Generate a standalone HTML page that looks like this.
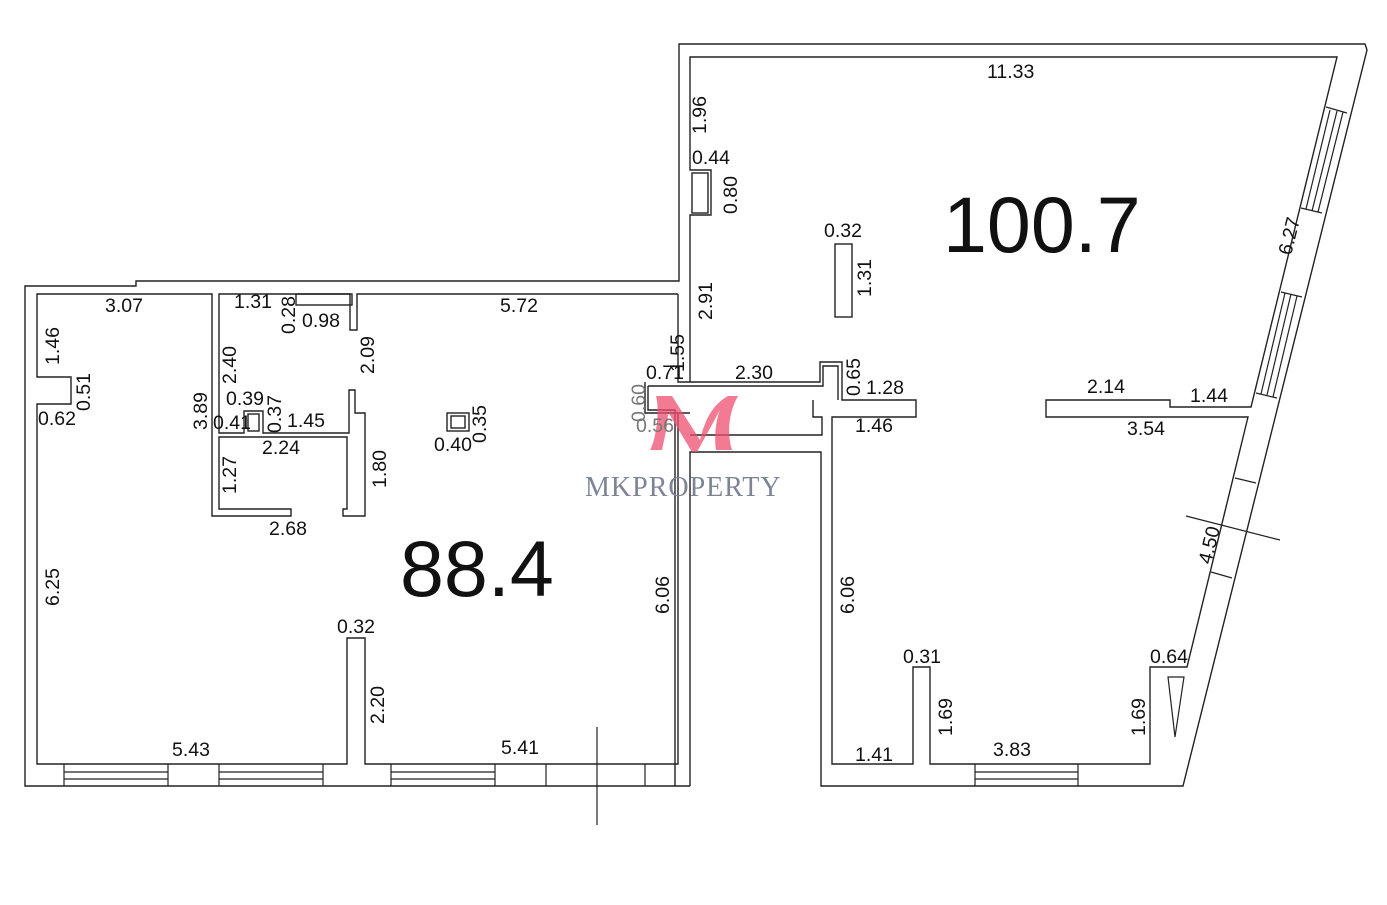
<!DOCTYPE html>
<html><head><meta charset="utf-8"><style>
html,body{margin:0;padding:0;background:#fff}
svg{display:block}
text{font-family:"Liberation Sans",sans-serif;fill:#111}
</style></head><body>
<svg width="1387" height="905" viewBox="0 0 1387 905" xmlns="http://www.w3.org/2000/svg">
<g fill="none" stroke="#222" stroke-width="1.4">
<polyline points="690,786 25,786 25,286 136,286 136,281 679,281 679,44 1365,44 1367,50 1183,786 821,786 821,452 690,452 690,786"/>
<polyline points="678,294 357,294 357,330 350,330 350,294 219,294 219,433 244,433 244,411 263,411 263,433 349,433 349,390 355,390 355,413 365,413 365,516 343,516 343,509 347,509 347,437 219,437 219,509 291,509 291,516 212,516 212,294 37,294 37,377 71,377 71,404 37,404 37,764 347,764 347,638 365,638 365,764 678,764 678,413"/>
<rect x="296" y="294" width="56" height="11"/>
<rect x="248" y="414" width="11" height="17"/>
<rect x="447" y="413" width="22" height="18"/>
<rect x="451" y="416" width="14" height="12"/>
<polyline points="678,294 678,382 820,382 820,362 842,362 842,400 916,400 916,417 832,417 832,764 913,764 913,667 930,667 930,764 1150,764 1150,667 1187,667 1248,417 1046,417 1046,400 1170,400 1170,407 1251,407 1337,57 690,57 690,170 711,170 711,215 690,215 690,382"/>
<rect x="692" y="173" width="16" height="40"/>
<polyline points="645,382 645,413 690,413"/>
<polyline points="648,386 823,386 823,366 838,366 838,400"/>
<polyline points="648,386 648,410 675,410 675,786"/>
<polyline points="690,435 822,435 822,417 813,417 813,400"/>
<rect x="835" y="244" width="17" height="73"/>
<polygon points="1168,677 1184,677 1175,737" stroke-width="1.2"/>
<g stroke-width="1.2">
<line x1="64" y1="764" x2="64" y2="786"/><line x1="168" y1="764" x2="168" y2="786"/>
<line x1="64" y1="772" x2="168" y2="772"/><line x1="64" y1="779" x2="168" y2="779"/>
<line x1="219" y1="764" x2="219" y2="786"/><line x1="323" y1="764" x2="323" y2="786"/>
<line x1="219" y1="772" x2="323" y2="772"/><line x1="219" y1="779" x2="323" y2="779"/>
<line x1="391" y1="764" x2="391" y2="786"/><line x1="495" y1="764" x2="495" y2="786"/>
<line x1="391" y1="772" x2="495" y2="772"/><line x1="391" y1="779" x2="495" y2="779"/>
<line x1="546" y1="764" x2="546" y2="786"/>
<line x1="645" y1="764" x2="645" y2="786"/>
<line x1="975" y1="764" x2="975" y2="786"/><line x1="1078" y1="764" x2="1078" y2="786"/>
<line x1="975" y1="772" x2="1078" y2="772"/><line x1="975" y1="779" x2="1078" y2="779"/>
<line x1="1326" y1="107" x2="1347" y2="113"/><line x1="1301" y1="208" x2="1322" y2="213"/>
<line x1="1330" y1="110" x2="1306" y2="209"/><line x1="1337" y1="111" x2="1312" y2="211"/><line x1="1343" y1="112" x2="1318" y2="212"/>
<line x1="1281" y1="292" x2="1302" y2="297"/><line x1="1256" y1="393" x2="1277" y2="398"/>
<line x1="1285" y1="293" x2="1261" y2="394"/><line x1="1291" y1="294" x2="1267" y2="395"/><line x1="1297" y1="296" x2="1273" y2="397"/>
<line x1="1235" y1="478" x2="1256" y2="483"/><line x1="1211" y1="572" x2="1232" y2="578"/>
<line x1="597" y1="727" x2="597" y2="825"/>
<line x1="1186" y1="516" x2="1280" y2="540"/>
</g>
</g>
<g opacity="0.75">
<path d="M650,450 C656,440 660,410 656,396 L672,396 L700,440 C705,420 712,405 728,396 L738,396 C730,410 726,430 732,450 L716,450 C714,435 716,420 720,410 L697,452 L692,452 L668,412 C668,425 664,440 662,450 Z" fill="#ee4f6f"/>
</g>
<text x="585" y="496" style="font-family:'Liberation Serif',serif;font-size:28px;fill:#7d8494;letter-spacing:1px">MKPROPERTY</text>
<g font-size="19.5">
<text x="987" y="78">11.33</text>
<text x="105" y="312">3.07</text>
<text x="234" y="308">1.31</text>
<text x="302" y="327">0.98</text>
<text x="500" y="312">5.72</text>
<text x="38" y="425">0.62</text>
<text x="226" y="405">0.39</text>
<text x="213" y="429">0.41</text>
<text x="287" y="427">1.45</text>
<text x="262" y="454">2.24</text>
<text x="269" y="535">2.68</text>
<text x="434" y="451">0.40</text>
<text x="646" y="379">0.71</text>
<text x="735" y="379">2.30</text>
<text x="866" y="394">1.28</text>
<text x="855" y="432">1.46</text>
<text x="636" y="432" style="fill:#777">0.56</text>
<text x="1087" y="393">2.14</text>
<text x="1190" y="402">1.44</text>
<text x="1127" y="435">3.54</text>
<text x="692" y="164">0.44</text>
<text x="824" y="237">0.32</text>
<text x="337" y="633">0.32</text>
<text x="903" y="663">0.31</text>
<text x="1150" y="663">0.64</text>
<text x="172" y="756">5.43</text>
<text x="501" y="754">5.41</text>
<text x="855" y="761">1.41</text>
<text x="993" y="756">3.83</text>
</g>
<g font-size="19.5">
<text transform="translate(59,365) rotate(-90)">1.46</text>
<text transform="translate(90,411) rotate(-90)">0.51</text>
<text transform="translate(207,430) rotate(-90)">3.89</text>
<text transform="translate(236,384) rotate(-90)">2.40</text>
<text transform="translate(295,334) rotate(-90)">0.28</text>
<text transform="translate(374,374) rotate(-90)">2.09</text>
<text transform="translate(281,433) rotate(-90)">0.37</text>
<text transform="translate(486,443) rotate(-90)">0.35</text>
<text transform="translate(236,494) rotate(-90)">1.27</text>
<text transform="translate(386,488) rotate(-90)">1.80</text>
<text transform="translate(59,606) rotate(-90)">6.25</text>
<text transform="translate(384,724) rotate(-90)">2.20</text>
<text transform="translate(669,614) rotate(-90)">6.06</text>
<text transform="translate(854,614) rotate(-90)">6.06</text>
<text transform="translate(706,134) rotate(-90)">1.96</text>
<text transform="translate(737,214) rotate(-90)">0.80</text>
<text transform="translate(712,320) rotate(-90)">2.91</text>
<text transform="translate(684,372) rotate(-90)">1.55</text>
<text transform="translate(871,297) rotate(-90)">1.31</text>
<text transform="translate(860,396) rotate(-90)">0.65</text>
<text transform="translate(645,422) rotate(-90)" style="fill:#777">0.60</text>
<text transform="translate(952,736) rotate(-90)">1.69</text>
<text transform="translate(1145,736) rotate(-90)">1.69</text>
<text transform="translate(1291,256) rotate(-76)">6.27</text>
<text transform="translate(1211,565) rotate(-76)">4.50</text>
</g>
<text x="943" y="252" font-size="79">100.7</text>
<text x="400" y="596" font-size="79">88.4</text>
</svg>
</body></html>
